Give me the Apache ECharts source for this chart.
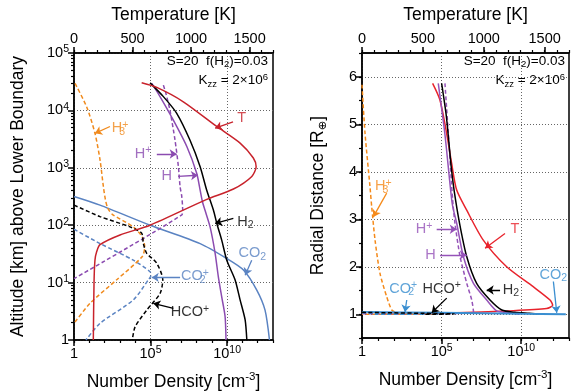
<!DOCTYPE html>
<html>
<head>
<meta charset="utf-8">
<script src="https://cdn.jsdelivr.net/npm/echarts@6/dist/echarts.min.js"></script>
<style>
  html, body { margin: 0; background: #fff; }
  #chart { width: 571px; height: 391px; }
</style>
</head>
<body>
<div id="chart"></div>
<script>
// densities and altitudes are stored as log10 exponents, temperatures in K, radius in R_earth

// tick values
const densityLabelTicks = [0, 5, 10];
const densityTicks = [0, 1, 2, 3, 4, 5, 6, 7, 8, 9, 10, 11, 12, 13];
const tempLabelTicks = [0, 500, 1000, 1500];
const tempTicks = [0, 100, 200, 300, 400, 500, 600, 700, 800, 900, 1000, 1100, 1200, 1300, 1400, 1500, 1600, 1700];
const altLabelTicks = [0, 1, 2, 3, 4, 5];
const minorMultipliers = [2, 3, 4, 5, 6, 7, 8, 9];
const radiusLabelTicks = [1, 2, 3, 4, 5, 6];
const radiusTicks = [0.5, 1, 1.5, 2, 2.5, 3, 3.5, 4, 4.5, 5, 5.5, 6, 6.5];

// left panel: [log10 density, log10 altitude]
const leftH2 = [[4.97,4.48],[5.84,4.24],[6.71,3.95],[7.58,3.48],[8.24,3.02],[8.67,2.61],[9.11,2.26],[9.33,2.03],[9.65,1.74],[9.98,1.39],[10.52,1.05],[10.85,0.70],[11.18,0.35],[11.29,0]];
const leftH = [[5.08,4.47],[5.6,4.25],[6.49,3.83],[7.37,3.37],[8.02,2.90],[8.24,2.61],[8.40,2.40],[8.56,2.26],[8.89,1.97],[9.22,1.51],[9.43,1.10],[9.65,0.75],[9.87,0.41],[9.93,0]];
const leftHplus = [[5.84,4.44],[6.0,4.3],[6.27,4.0],[6.6,3.48],[6.82,3.02],[6.93,2.67],[7.04,2.50],[7.1,2.26],[7.04,2.18],[0,1.07]];
const leftH3plus = [[0.07,4.47],[0.83,4.06],[1.37,3.60],[1.70,3.14],[1.92,2.67],[2.05,2.45],[2.2,2.30],[2.5,2.19],[3.88,1.97],[4.45,1.80],[4.62,1.62],[4.45,1.45],[2.79,1.05],[1.05,0.64],[0,0.29]];
const leftHCOplus = [[0,2.35],[1.70,2.15],[3.66,1.97],[4.42,1.86],[4.53,1.68],[4.75,1.51],[5.40,1.34],[5.80,1.05],[5.62,0.81],[4.75,0.52],[3.99,0.23],[3.81,0]];
const leftCO2 = [[0,2.50],[1.70,2.35],[4.97,2.0],[8.24,1.68],[9.98,1.42],[11.07,1.22],[11.94,0.87],[12.48,0.52],[12.77,0]];
const leftCO2plus = [[0,1.93],[1.70,1.68],[3.88,1.39],[4.97,1.19],[5.02,1.12],[4.86,1.05],[3.88,0.70],[1.70,0.29],[0.78,0]];
// left panel temperature: [K, log10 altitude]
const leftT = [[578,4.48],[707,4.40],[934,4.15],[1219,3.72],[1419,3.43],[1532,3.17],[1556,3.02],[1519,2.85],[1362,2.63],[1134,2.45],[650,2.0],[393,1.83],[222,1.66],[194,1.54],[179,1.39],[171,0.99],[165,0]];

// right panel: [log10 density, radial distance]
const rightH2 = [[5.0,5.86],[5.3,5.16],[5.6,4.11],[5.78,3.62],[6.13,2.91],[6.58,2.21],[7.2,1.65],[8.04,1.30],[8.78,1.09],[9.6,1.04],[10.5,1.02],[11.3,1.0]];
const rightH = [[4.79,5.86],[5.2,4.81],[5.5,3.83],[5.68,3.3],[5.95,2.91],[6.37,2.21],[7.0,1.65],[7.83,1.30],[8.46,1.07],[9.2,1.03],[9.9,1.0]];
const rightHplus = [[5.21,5.86],[5.42,4.81],[5.62,3.76],[5.72,3.3],[5.84,2.91],[6.16,2.21],[6.58,1.65],[6.89,1.30],[7.0,1.05],[6.5,1.02],[0,1.01]];
const rightH3plus = [[0,5.83],[0.19,4.81],[0.5,3.69],[0.61,3.26],[0.82,2.56],[1.13,1.86],[1.55,1.37],[1.87,1.09],[2.2,1.03],[3.5,1.01],[4.6,1.005],[0,1.0]];
const rightHCOplus = [[0,1.04],[5.8,1.005],[3.8,1.0]];
const rightCO2 = [[0,1.05],[5,1.03],[10,1.01],[12.8,1.0]];
const rightCO2plus = [[0,1.03],[5,1.005],[0.8,1.0]];
// right panel temperature: [K, radial distance]
const rightT = [[580,5.86],[640,5.51],[695,4.81],[736,4.18],[777,3.62],[860,3.19],[996,2.56],[1188,2.00],[1406,1.58],[1544,1.30],[1566,1.19],[1516,1.12],[1188,1.07],[777,1.03],[400,1.01],[165,1.0]];

// species labels and arrows: [log10 density, y]
const leftLabels = [
  { text: '{L|T}', pos: [10.95, 3.86], from: [10.39, 3.80], to: [9.22, 3.69], c: 'red' },
  { text: '{L|H}{sz|3}{sp|+}', pos: [3.01, 3.69], from: [2.35, 3.72], to: [1.37, 3.60], c: 'orange' },
  { text: '{L|H}{sp|+}', pos: [4.51, 3.24], from: [5.41, 3.24], to: [6.71, 3.24], c: 'purple' },
  { text: '{L|H}', pos: [6.06, 2.85], from: [6.80, 2.85], to: [8.10, 2.87], c: 'purple' },
  { text: '{L|H}{sb|2}', pos: [11.2, 2.06], from: [10.41, 2.12], to: [9.22, 2.03], c: 'black' },
  { text: '{L|CO}{sb|2}', pos: [11.65, 1.51], from: [11.61, 1.39], to: [11.18, 1.13], c: 'blue' },
  { text: '{L|CO}{sz|2}{sp|+}', pos: [7.9, 1.11], from: [6.93, 1.09], to: [5.08, 1.09], c: 'blue' },
  { text: '{L|HCO}{sp|+}', pos: [7.58, 0.48], from: [6.49, 0.55], to: [5.18, 0.64], c: 'black' }
];
const rightLabels = [
  { text: '{L|H}{sz|3}{sp|+}', pos: [1.34, 3.69], from: [1.55, 3.55], to: [0.71, 3.05], c: 'orange' },
  { text: '{L|H}{sp|+}', pos: [3.9, 2.79], from: [4.69, 2.79], to: [5.95, 2.79], c: 'purple' },
  { text: '{L|H}', pos: [4.3, 2.25], from: [4.90, 2.25], to: [6.58, 2.25], c: 'purple' },
  { text: '{L|T}', pos: [9.61, 2.79], from: [8.98, 2.70], to: [7.73, 2.39], c: 'red' },
  { text: '{L|H}{sb|2}', pos: [9.35, 1.51], from: [8.67, 1.51], to: [7.83, 1.51], c: 'black' },
  { text: '{L|CO}{sb|2}', pos: [12.02, 1.83], from: [12.02, 1.69], to: [12.23, 1.03], c: 'blue' },
  { text: '{L|CO}{sz|2}{sp|+}', pos: [2.59, 1.53], from: [2.81, 1.30], to: [2.70, 1.05], c: 'blue' },
  { text: '{L|HCO}{sp|+}', pos: [5.0, 1.53], from: [5.32, 1.34], to: [4.38, 1.03], c: 'black' }
];

const FONT = '"Liberation Sans", Arial, "DejaVu Sans", sans-serif';
const colorsLeft = { red: '#c8222b', orange: '#f08a1d', purple: '#8b4bb0', blue: '#5a83c2', black: '#000' };
const colorsRight = { red: '#e8232c', orange: '#f58a1a', purple: '#9553b8', blue: '#3a8ed0', black: '#000' };

const tickRich = {
  b: { fontSize: 14.5, fontFamily: FONT, color: '#000', lineHeight: 18 },
  p: { fontSize: 10.5, fontFamily: FONT, color: '#000', lineHeight: 9, verticalAlign: 'top' }
};
const nameRich = {
  n: { fontSize: 17.5, fontFamily: FONT, color: '#000', lineHeight: 22 },
  p: { fontSize: 11.5, fontFamily: FONT, color: '#000', lineHeight: 11, verticalAlign: 'top' },
  s: { fontSize: 11.5, fontFamily: FONT, color: '#000', lineHeight: 10, verticalAlign: 'bottom' }
};
const labelRich = {
  L: { fontSize: 14.5, fontFamily: FONT, lineHeight: 18 },
  sb: { fontSize: 10.5, fontFamily: FONT, lineHeight: 8, verticalAlign: 'bottom' },
  sz: { fontSize: 10.5, fontFamily: FONT, lineHeight: 8, verticalAlign: 'bottom', width: 0 },
  sp: { fontSize: 10.5, fontFamily: FONT, lineHeight: 9, verticalAlign: 'top' }
};

function pow10(v) {
  return v === 0 ? '{b|1}' : '{b|10}{p|' + v + '}';
}

const lineBlack = { color: '#000', width: 1.5 };
const dotted = { show: true, lineStyle: { color: '#666', type: [1, 2], width: 1 } };

function majorAxis(grid, pos, min, max, ticks, fmt, name, gap) {
  return {
    gridIndex: grid, type: 'value', position: pos, min: min, max: max,
    axisLine: { show: true, lineStyle: lineBlack },
    axisTick: { show: true, customValues: ticks, length: 6, lineStyle: lineBlack },
    axisLabel: { customValues: ticks, formatter: fmt, rich: tickRich, margin: 5, color: '#000', fontSize: 14.5, fontFamily: FONT },
    splitLine: { show: false },
    name: name, nameLocation: 'middle', nameGap: gap,
    nameTextStyle: { rich: nameRich, fontSize: 17.5, fontFamily: FONT, color: '#000' }
  };
}
function minorAxis(grid, pos, min, max, ticks) {
  return {
    gridIndex: grid, type: 'value', position: pos, min: min, max: max,
    axisLine: { show: false },
    axisTick: { show: true, customValues: ticks, length: 3, lineStyle: { color: '#000', width: 1.2 } },
    axisLabel: { show: false },
    splitLine: { show: false }
  };
}

const altMinor = [];
for (let d = 0; d < 5; d++) {
  minorMultipliers.forEach(m => altMinor.push(d + Math.log10(m)));
}

const tempFmt = v => '{b|' + v + '}';
const radFmt = v => '{b|' + v + '}';

const xAxis = [
  Object.assign(majorAxis(0, 'bottom', 0, 13, densityLabelTicks, pow10, '{n|Number Density [cm}{p|-3}{n|]}', 31), { splitLine: dotted }),
  minorAxis(0, 'bottom', 0, 13, densityTicks),
  majorAxis(0, 'top', 0, 1700, tempLabelTicks, tempFmt, '{n|Temperature [K]}', 27),
  minorAxis(0, 'top', 0, 1700, tempTicks),
  Object.assign(majorAxis(1, 'bottom', 0, 13, densityLabelTicks, pow10, '{n|Number Density [cm}{p|-3}{n|]}', 31), { splitLine: dotted }),
  minorAxis(1, 'bottom', 0, 13, densityTicks),
  majorAxis(1, 'top', 0, 1700, tempLabelTicks, tempFmt, '{n|Temperature [K]}', 27),
  minorAxis(1, 'top', 0, 1700, tempTicks)
];
const yAxis = [
  Object.assign(majorAxis(0, 'left', 0, 5, altLabelTicks, pow10, '{n|Altitude [km] above Lower Boundary}', 45), { splitLine: dotted }),
  minorAxis(0, 'left', 0, 5, altMinor),
  Object.assign(majorAxis(1, 'left', 0.5, 6.5, radiusLabelTicks, radFmt, '{n|Radial Distance [R}{s|⊕}{n|]}', 33), { splitLine: dotted }),
  minorAxis(1, 'left', 0.5, 6.5, radiusTicks)
];

function curve(data, color, xi, yi, dashed, width) {
  return {
    type: 'line', data: data, xAxisIndex: xi, yAxisIndex: yi,
    showSymbol: false, symbol: 'none', smooth: 0.25, animation: false,
    lineStyle: { color: color, width: width || 1.5, type: dashed ? [4, 2.5] : 'solid' },
    z: 3
  };
}

function annotations(list, cols, xi, yi) {
  return [
    {
      type: 'lines', coordinateSystem: 'cartesian2d', xAxisIndex: xi, yAxisIndex: yi,
      symbol: ['none', 'arrow'], symbolSize: [0, 7], animation: false, z: 5,
      lineStyle: { width: 1.3, opacity: 1 },
      data: list.map(a => ({ coords: [a.from, a.to], lineStyle: { color: cols[a.c] } }))
    },
    {
      type: 'scatter', xAxisIndex: xi, yAxisIndex: yi, symbolSize: 0, animation: false, z: 6,
      data: list.map(a => ({
        value: a.pos,
        label: { show: true, position: 'inside', formatter: a.text, color: cols[a.c], rich: labelRich }
      }))
    }
  ];
}

const cl = colorsLeft, cr = colorsRight;
const series = [
  curve(leftCO2, cl.blue, 0, 0),
  curve(leftCO2plus, cl.blue, 0, 0, true),
  curve(leftH3plus, cl.orange, 0, 0, true),
  curve(leftHplus, cl.purple, 0, 0, true),
  curve(leftHCOplus, cl.black, 0, 0, true),
  curve(leftH, cl.purple, 0, 0),
  curve(leftH2, cl.black, 0, 0),
  curve(leftT, cl.red, 2, 0),
  ...annotations(leftLabels, cl, 0, 0),

  curve(rightT, cr.red, 6, 2),
  curve(rightH3plus, cr.orange, 4, 2, true),
  curve(rightHplus, cr.purple, 4, 2, true),
  curve(rightH, cr.purple, 4, 2),
  curve(rightH2, cr.black, 4, 2),
  curve(rightCO2, cr.blue, 4, 2, false, 2),
  curve(rightCO2plus, cr.blue, 4, 2, true),
  curve(rightHCOplus, cr.black, 4, 2, true),
  ...annotations(rightLabels, cr, 4, 2)
];

const infoRich = {
  a: { fontSize: 13.5, fontFamily: FONT, color: '#000', lineHeight: 17 },
  s: { fontSize: 9.5, fontFamily: FONT, color: '#000', lineHeight: 8, verticalAlign: 'bottom' },
  p: { fontSize: 9.5, fontFamily: FONT, color: '#000', lineHeight: 8, verticalAlign: 'top' }
};
function infoText(x) {
  return [
    { type: 'text', right: 571 - x, top: 54, style: { text: '{a|S=20  f(H}{s|2}{a|)=0.03}', rich: infoRich, align: 'right' } },
    { type: 'text', right: 571 - x, top: 72, style: { text: '{a|K}{s|zz}{a| = 2×10}{p|6}', rich: infoRich, align: 'right' } }
  ];
}

const chart = echarts.init(document.getElementById('chart'), null, { renderer: 'canvas' });
chart.setOption({
  backgroundColor: '#fff',
  animation: false,
  grid: [
    { left: 74, top: 53, width: 199, height: 287, show: true, borderColor: '#000', borderWidth: 1.5, backgroundColor: 'transparent', containLabel: false, outerBoundsMode: 'none' },
    { left: 362, top: 53, width: 207, height: 285, show: true, borderColor: '#000', borderWidth: 1.5, backgroundColor: 'transparent', containLabel: false, outerBoundsMode: 'none' }
  ],
  xAxis: xAxis,
  yAxis: yAxis,
  graphic: [...infoText(268), ...infoText(565)],
  series: series
});
</script>
</body>
</html>
